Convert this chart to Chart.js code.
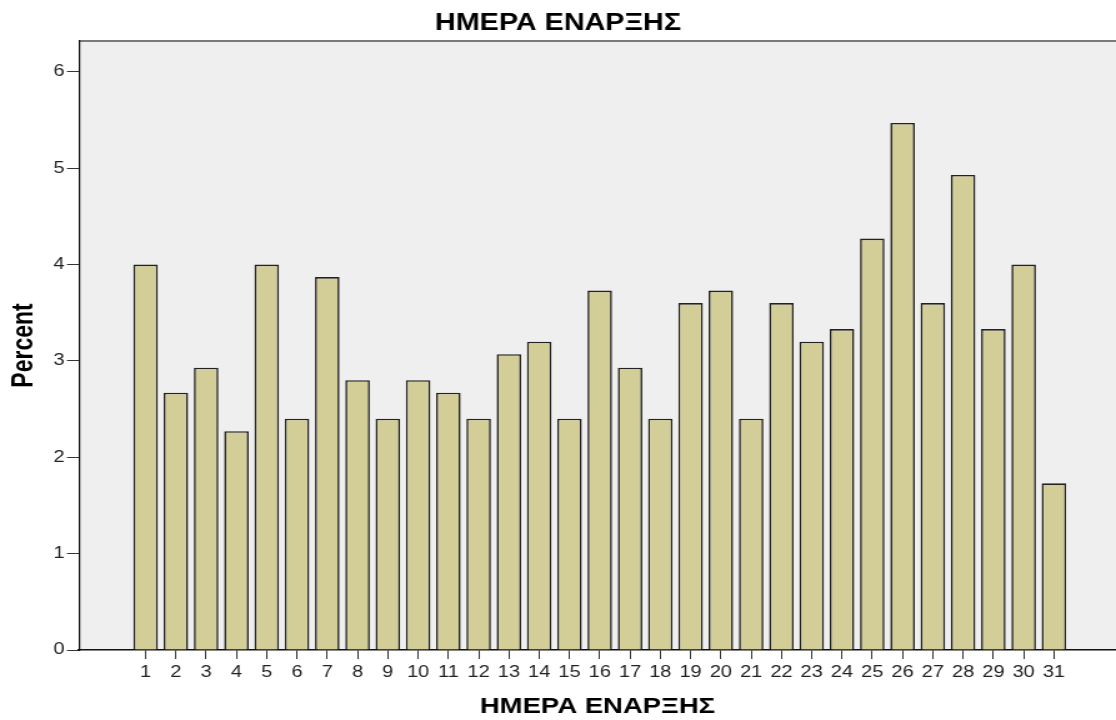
<!DOCTYPE html>
<html>
<head>
<meta charset="utf-8">
<script src="https://cdn.jsdelivr.net/npm/chart.js@4/dist/chart.umd.min.js"></script>
<style>
  html, body { margin: 0; padding: 0; background: #fff; overflow: hidden; }
  /* the original export is stretched sideways, so draw narrow and widen */
  #wrap { width: 893px; height: 720px; transform: scaleX(1.2497); transform-origin: 0 0; }
</style>
</head>
<body>
<div id="wrap"><canvas id="chart" width="893" height="720"></canvas></div>
<script>
// day of start (1..31) and percent of cases
const days = [1, 2, 3, 4, 5, 6, 7, 8, 9, 10, 11, 12, 13, 14, 15, 16,
  17, 18, 19, 20, 21, 22, 23, 24, 25, 26, 27, 28, 29, 30, 31];
const percent = [4.00, 2.67, 2.93, 2.27, 4.00, 2.40, 3.87, 2.80, 2.40, 2.80,
  2.67, 2.40, 3.07, 3.20, 2.40, 3.73, 2.93, 2.40, 3.60, 3.73,
  2.40, 3.60, 3.20, 3.33, 4.27, 5.47, 3.60, 4.93, 3.33, 4.00, 1.73];
const yTicks = [0, 1, 2, 3, 4, 5, 6];

const chartTitle = 'ΗΜΕΡΑ ΕΝΑΡΞΗΣ';
const xTitle = 'ΗΜΕΡΑ ΕΝΑΡΞΗΣ';
const yTitle = 'Percent';

const FONT = "'Liberation Sans', Arial, sans-serif";

// grey plot background + top frame line
const plotFrame = {
  id: 'plotFrame',
  beforeDraw(chart) {
    const { ctx, chartArea: a } = chart;
    ctx.save();
    ctx.fillStyle = '#efefef';
    ctx.fillRect(a.left, a.top, a.right - a.left, a.bottom - a.top);
    ctx.strokeStyle = '#7a7a7a';
    ctx.lineWidth = 2;
    ctx.beginPath();
    ctx.moveTo(a.left, a.top);
    ctx.lineTo(a.right, a.top);
    ctx.stroke();
    ctx.restore();
  }
};

const points = days.map((d, i) => ({ x: d, y: percent[i] }));

new Chart(document.getElementById('chart'), {
  type: 'bar',
  data: {
    datasets: [{
      data: points,
      backgroundColor: '#d3ce97',
      borderColor: '#222',
      borderWidth: 1.6,
      barPercentage: 1,
      categoryPercentage: 0.81
    }]
  },
  options: {
    responsive: false,
    animation: false,
    layout: { padding: { left: 0, right: 0, top: 0, bottom: 0 } },
    plugins: {
      legend: { display: false },
      tooltip: { enabled: false },
      title: {
        display: true,
        text: chartTitle,
        color: '#000',
        font: { family: FONT, size: 23, weight: 'bold' },
        padding: { top: 10, bottom: 3.4 }
      }
    },
    scales: {
      x: {
        type: 'linear',
        offset: false,
        min: -1.2,
        max: 33.05,
        afterBuildTicks: s => { s.ticks = days.map(d => ({ value: d })); },
        afterFit: s => { s.height = 70; },
        ticks: {
          autoSkip: false,
          maxRotation: 0,
          color: '#222',
          font: { family: FONT, size: 16 },
          padding: 4
        },
        grid: {
          offset: false,
          drawOnChartArea: false,
          drawTicks: true,
          tickLength: 9,
          color: '#333'
        },
        border: { display: true, color: '#111', width: 1.5 },
        title: {
          display: true,
          text: xTitle,
          color: '#000',
          font: { family: FONT, size: 22, weight: 'bold' },
          padding: { top: 0, bottom: 0 }
        }
      },
      y: {
        min: 0,
        max: 6.32,
        afterBuildTicks: s => { s.ticks = yTicks.map(v => ({ value: v })); },
        afterFit: s => { s.width = 63.2; },
        ticks: {
          color: '#222',
          font: { family: FONT, size: 16 },
          padding: 2
        },
        grid: {
          drawOnChartArea: false,
          drawTicks: true,
          tickLength: 9.6,
          color: '#333'
        },
        border: { display: true, color: '#111', width: 1.2 },
        title: {
          display: true,
          text: yTitle,
          color: '#000',
          font: { family: FONT, size: 23, weight: 'bold' },
          padding: { top: 6, bottom: 0 }
        }
      }
    }
  },
  plugins: [plotFrame]
});
</script>
</body>
</html>
